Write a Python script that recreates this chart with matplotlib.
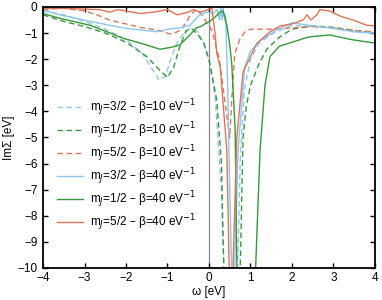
import numpy as np
import matplotlib
matplotlib.use("Agg")
import matplotlib.pyplot as plt

plt.rcParams.update({
    'font.family': ['Liberation Sans', 'DejaVu Sans'],
    'font.size': 8.5,
    'axes.unicode_minus': True,
})

# colours
c_blue = '#8cc6ee'
c_green = '#36993a'
c_red = '#e07458'

# mJ=3/2, beta=10 (dashed)
w_b10 = [-4, -3.5, -3, -2.5, -2, -1.6, -1.4, -1.2, -1.05, -0.9, -0.75, -0.6, -0.45, -0.3,
         -0.15, 0, 0.15, 0.3, 0.38, 0.68, 0.75, 0.85, 1.0, 1.2, 1.5, 2.0, 2.5, 3.0, 3.5, 4.0]
s_b10 = [-0.15, -0.3, -0.55, -0.85, -1.25, -1.8, -2.3, -2.8, -2.65, -1.9, -1.3, -1.0, -0.8, -0.9,
         -1.3, -2.0, -3.5, -7, -11, -11, -6, -3.2, -2.0, -1.4, -1.05, -0.7, -0.75, -0.8, -0.95, -1.0]

# mJ=1/2, beta=10 (dashed)
w_g10 = [-4, -3.5, -3, -2.5, -2, -1.5, -1.2, -1.0, -0.85, -0.7, -0.55, -0.4, -0.25, -0.12,
         0.02, 0.19, 0.3, 0.37, 0.74, 0.82, 0.9, 1.0, 1.2, 1.4, 1.7, 2.0, 2.5, 3.0, 3.5, 4.0]
s_g10 = [-0.3, -0.55, -0.75, -1.0, -1.35, -1.9, -2.4, -2.7, -2.3, -1.5, -0.9, -0.85, -1.1, -1.4,
         -2.15, -3.6, -6, -11, -11, -5, -3.8, -3.0, -2.2, -1.6, -1.15, -0.85, -0.72, -0.78, -0.9, -1.0]

# mJ=5/2, beta=10 (dashed)
w_r10 = [-4, -3.5, -3, -2.7, -2.4, -2.0, -1.6, -1.25, -0.9, -0.7, -0.55, -0.45, -0.3, -0.15,
         0.07, 0.25, 0.4, 0.5, 0.55, 0.62, 0.75, 0.87, 1.0, 1.15, 1.5, 2.0, 2.5, 3.0, 3.5, 4.0]
s_r10 = [-0.1, -0.05, -0.15, -0.3, -0.5, -0.65, -0.8, -0.88, -1.05, -0.9, -0.6, -0.3, -0.1, -0.35,
         -0.9, -2.0, -3.8, -5.0, -3.5, -1.8, -1.2, -0.95, -0.85, -0.85, -0.85, -0.8, -0.75, -0.8,
         -0.9, -0.95]

# mJ=3/2, beta=40 (solid)
w_b40 = [-4, -3.6, -2.87, -2.07, -1.66, -1.25, -1.0, -0.7, -0.46, -0.22, -0.05, 0.1, 0.2, 0.25,
         0.28, 0.31, 0.34, 0.37, 0.40, 0.45, 0.5, 0.56, 0.6, 0.7, 0.86, 1.0, 1.23, 1.6, 2.0, 2.4,
         2.9, 3.5, 4.0]
s_b40 = [-0.1, -0.3, -0.55, -0.8, -0.88, -0.95, -0.85, -0.8, -0.7, -0.3, -0.2, -0.25, -0.1, -0.5,
         0, -0.5, 0, -0.5, -0.3, -3, -7, -11, -11, -5.5, -2.3, -1.7, -1.3, -0.9, -0.6, -0.7,
         -0.8, -0.95, -1.0]

# mJ=1/2, beta=40 (solid)
w_g40 = [-4, -3.6, -2.87, -2.46, -2.07, -1.66, -1.18, -0.87, -0.7, -0.46, -0.3, -0.2, -0.1, 0.02,
         0.14, 0.26, 0.34, 0.43, 0.5, 0.55, 0.63, 0.68, 1.1, 1.23, 1.35, 1.47, 1.7, 2.0, 2.4,
         2.9, 3.47, 4.0]
s_g40 = [-0.25, -0.43, -0.7, -0.95, -1.2, -1.38, -1.62, -1.53, -1.45, -1.07, -0.8, -0.75, -0.65,
         -0.55, -0.4, -0.2, -0.15, -0.7, -1.45, -2.2, -4.7, -11, -11, -5.5, -3.0, -1.9, -1.5,
         -1.35, -1.15, -1.07, -1.26, -1.38]

# mJ=5/2, beta=40 (solid)
w_r40 = [-4, -3.6, -2.63, -2.4, -2.2, -1.66, -1.35, -1.0, -0.77, -0.5, -0.38, -0.2, 0.07, 0.15,
         0.19, 0.27, 0.43, 0.5, 0.56, 0.67, 0.82, 1.15, 1.47, 1.71, 2.0, 2.27, 2.36, 2.45, 2.6,
         2.67, 2.9, 3.16, 3.47, 3.8, 4.0]
s_r40 = [-0.05, -0.05, -0.1, -0.2, -0.1, -0.25, -0.2, -0.1, -0.3, -0.2, -0.1, -0.2, -0.05, -1.07,
         -1.8, -2.3, -5.5, -11, -11, -5.0, -2.5, -1.4, -0.95, -0.73, -0.65, -0.5, -0.3, -0.5,
         -0.3, -0.1, -0.15, -0.35, -0.5, -0.7, -0.72]

labels = [r"m$_J$=3/2 – β=10 eV$^{-1}$",
          r"m$_J$=1/2 – β=10 eV$^{-1}$",
          r"m$_J$=5/2 – β=10 eV$^{-1}$",
          r"m$_J$=3/2 – β=40 eV$^{-1}$",
          r"m$_J$=1/2 – β=40 eV$^{-1}$",
          r"m$_J$=5/2 – β=40 eV$^{-1}$"]

fig = plt.figure(figsize=(3.82, 3.0), dpi=100)
ax = fig.add_axes([0.1126, 0.1067, 0.869, 0.87])

ax.axvline(0, color='#888888', lw=0.9, zorder=1)

dash = (0, (4, 2.5))
ax.plot(w_b10, s_b10, color=c_blue, lw=1.0, ls=dash, label=labels[0])
ax.plot(w_g10, s_g10, color=c_green, lw=1.0, ls=dash, label=labels[1])
ax.plot(w_r10, s_r10, color=c_red, lw=1.0, ls=dash, label=labels[2])
ax.plot(w_b40, s_b40, color=c_blue, lw=1.0, label=labels[3])
ax.plot(w_g40, s_g40, color=c_green, lw=1.0, label=labels[4])
ax.plot(w_r40, s_r40, color=c_red, lw=1.0, label=labels[5])

ax.set_xlim(-4, 4)
ax.set_ylim(-10, 0)
ax.set_xticks(np.arange(-4, 5, 1))
ax.set_yticks(np.arange(-10, 1, 1))
ax.tick_params(direction='in', top=True, right=True, length=3.5, width=1.0)
ax.tick_params(axis='x', pad=3)
ax.tick_params(axis='y', pad=4)
for sp in ax.spines.values():
    sp.set_linewidth(1.3)

ax.set_xlabel("ω [eV]", labelpad=1)
ax.set_ylabel("ImΣ [eV]", labelpad=2)

ax.legend(loc='upper left', bbox_to_anchor=(0.02, 0.68), frameon=False,
          handlelength=2.2, handletextpad=0.6, labelspacing=0.2, fontsize=8.5,
          borderaxespad=0.2)

fig.savefig("out.png", dpi=100)
